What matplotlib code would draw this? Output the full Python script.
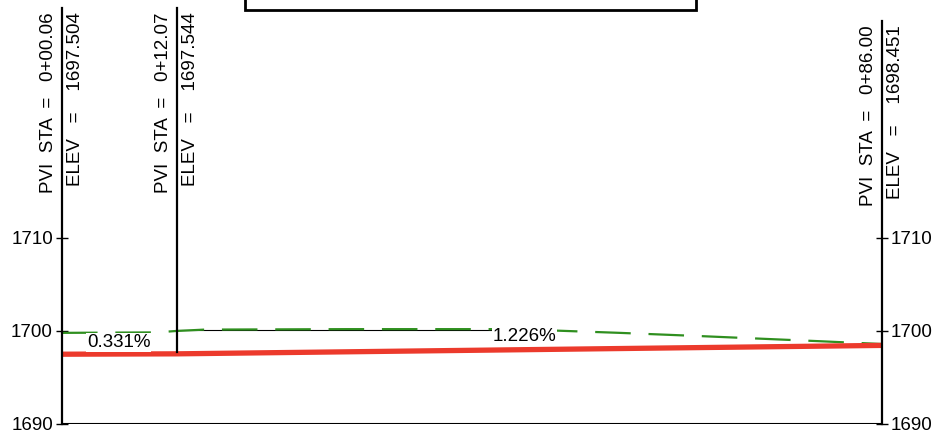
import matplotlib
matplotlib.use("Agg")
import matplotlib.pyplot as plt
from matplotlib.patches import Rectangle

plt.rcParams['font.family'] = ['Liberation Sans', 'DejaVu Sans']

# Data
pviSta = [0.06, 12.07, 86.00]
pviElev = [1697.504, 1697.544, 1698.451]
pviStaLabels = ["0+00.06", "0+12.07", "0+86.00"]
pviElevLabels = ["1697.504", "1697.544", "1698.451"]
grades = ["0.331%", "1.226%"]
gradeSta = [6.0, 48.5]
gradeElev = [1698.75, 1699.4]

groundSta = [0.06, 10.0, 12.0, 15.0, 30.0, 47.5, 58.5, 67.0, 79.5, 86.0]
groundElev = [1699.8, 1699.85, 1700.0, 1700.15, 1700.2, 1700.2, 1699.8, 1699.45, 1698.9, 1698.6]
oldSta = [12.07, 47.5]
oldElev = [1700.1, 1700.1]

yTicks = [1690, 1700, 1710]

# Figure
fig = plt.figure(figsize=(9.38, 4.38), dpi=100)
ax = fig.add_axes([62 / 938, 14 / 438, 820 / 938, 424 / 438])
ax.set_xlim(pviSta[0], pviSta[-1])
ax.set_ylim(1690, 1690 + 424 / 9.3)

# ground (dashed green) and proposed profile (red)
ax.plot(oldSta, oldElev, color="black", lw=0.8, zorder=2)
ax.plot(groundSta, groundElev, color="#2f8f1f", lw=1.6, dashes=(16, 8), zorder=3)
ax.plot(pviSta, pviElev, color="#ec3a2c", lw=3.8, solid_capstyle="butt", zorder=4)

# bottom line
ax.axhline(1690, color="black", lw=1.5, zorder=5)

# PVI lines and labels
lineTops = [1734.7, 1734.7, 1733.3]
lineBottoms = [1690, pviElev[1] + 0.25, 1690]
for i in range(len(pviSta)):
    ax.plot([pviSta[i], pviSta[i]], [lineBottoms[i], lineTops[i]], color="black", lw=1.6,
            zorder=5, clip_on=False)
    top = lineTops[i] - 0.4
    ax.annotate("PVI  STA  =   " + pviStaLabels[i], xy=(pviSta[i], top), xytext=(-5, 0),
                textcoords="offset pixels", rotation=90, ha="right", va="top", fontsize=13.5)
    ax.annotate("ELEV   =    " + pviElevLabels[i], xy=(pviSta[i], top), xytext=(5, 0),
                textcoords="offset pixels", rotation=90, ha="left", va="top", fontsize=13.5)

# grade labels
for i in range(len(grades)):
    ax.text(gradeSta[i], gradeElev[i], grades[i], ha="center", va="center", fontsize=13.5,
            zorder=6, bbox=dict(facecolor="white", edgecolor="none", pad=0.5))

# axes
for side in ["top", "bottom", "left", "right"]:
    ax.spines[side].set_visible(False)
ax.set_xticks([])
ax.set_yticks(yTicks)
ax.set_yticklabels([str(t) for t in yTicks])
ax.tick_params(axis="y", direction="inout", length=9, width=1, labelsize=13.5,
               left=True, right=True, labelleft=True, labelright=True, pad=2)

# title box cut at top
fig.patches.append(Rectangle((245 / 938, 1 - 10 / 438), 451 / 938, 0.2,
                             transform=fig.transFigure, facecolor="white",
                             edgecolor="black", lw=2))

fig.savefig("out.png", dpi=100)
